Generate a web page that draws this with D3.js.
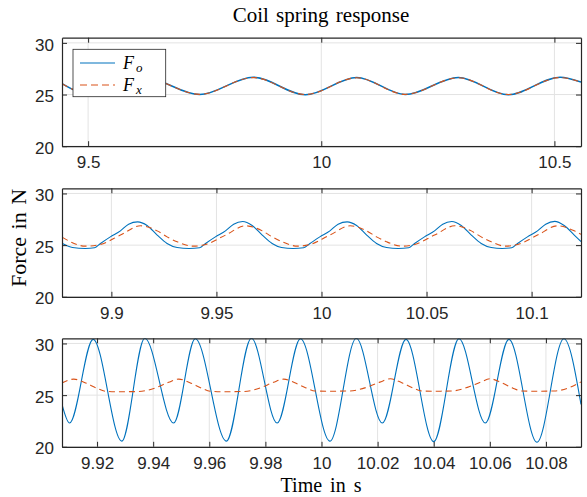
<!DOCTYPE html>
<html>
<head>
<meta charset="utf-8">
<script src="https://cdn.jsdelivr.net/npm/d3@7"></script>
<style>
  body { margin: 0; background: #fff; }
</style>
</head>
<body>
<div id="chart"></div>
<script>
// values
var yTicks = [20, 25, 30];

// top panel (long window)
var topTicks = [9.5, 10, 10.5];
var topTime = [9.444, 9.505, 9.62, 9.739, 9.854, 9.966, 10.076, 10.18, 10.294, 10.401, 10.512, 10.557];
var topFo = [26.05, 25.0, 26.65, 25.0, 26.68, 24.98, 26.66, 25.0, 26.66, 24.98, 26.68, 26.2];
var topFx = [26.05, 25.02, 26.62, 25.02, 26.64, 25.0, 26.62, 25.02, 26.62, 25.0, 26.64, 26.2];

// middle panel
var midTicks = [9.9, 9.95, 10, 10.05, 10.1];
var midFoTime = [9.8767, 9.8815, 9.8876, 9.892, 9.8948, 9.8995, 9.9043, 9.9082, 9.9125, 9.917, 9.9218, 9.9265,
  9.9313, 9.937, 9.942, 9.9448, 9.9495, 9.9543, 9.9582, 9.9625, 9.967, 9.9718, 9.9765,
  9.981, 9.9865, 9.9915, 9.9945, 9.9992, 10.004, 10.0079, 10.0122, 10.0167, 10.0215, 10.0262,
  10.031, 10.0365, 10.0415, 10.0443, 10.049, 10.0538, 10.0577, 10.062, 10.0665, 10.0713, 10.076,
  10.0808, 10.086, 10.0905, 10.0933, 10.098, 10.1028, 10.1067, 10.111, 10.1155, 10.1203, 10.1235];
var midFo = [25.15, 24.77, 24.68, 24.75, 25.16, 25.8, 26.38, 27.03, 27.25, 26.9, 25.97, 25.16,
  24.77, 24.68, 24.75, 25.16, 25.8, 26.38, 27.03, 27.28, 26.9, 25.97, 25.16,
  24.77, 24.68, 24.75, 25.16, 25.8, 26.38, 27.03, 27.25, 26.9, 25.97, 25.16,
  24.77, 24.68, 24.75, 25.16, 25.8, 26.38, 27.03, 27.28, 26.9, 25.97, 25.16,
  24.77, 24.68, 24.75, 25.16, 25.8, 26.38, 27.03, 27.3, 26.9, 25.97, 25.35];
var midFxTime = [9.8767, 9.8876, 9.8948, 9.9043, 9.9139, 9.9218, 9.9265, 9.9313,
  9.9389, 9.9449, 9.9543, 9.9639, 9.9718, 9.9765, 9.9813,
  9.9886, 9.9946, 10.004, 10.0136, 10.0215, 10.0262, 10.031,
  10.0384, 10.0444, 10.0538, 10.0634, 10.0713, 10.076, 10.0808,
  10.0874, 10.0934, 10.1028, 10.1124, 10.1203, 10.1235];
var midFx = [25.75, 24.9, 25.07, 25.97, 26.87, 26.38, 25.8, 25.32,
  24.9, 25.07, 25.97, 26.87, 26.38, 25.8, 25.32,
  24.9, 25.07, 25.97, 26.87, 26.38, 25.8, 25.32,
  24.9, 25.07, 25.97, 26.87, 26.38, 25.8, 25.32,
  24.9, 25.07, 25.97, 26.87, 26.38, 26.05];

// bottom panel
var botTicks = [9.92, 9.94, 9.96, 9.98, 10, 10.02, 10.04, 10.06, 10.08];
var botFoTime = [9.9075, 9.9102, 9.9186, 9.9288, 9.9370, 9.9473, 9.9550, 9.9661, 9.9750, 9.9842, 9.9925,
  10.0030, 10.0124, 10.0217, 10.0301, 10.0400, 10.0490, 10.0584, 10.0668, 10.0768, 10.0864, 10.0925];
var botFo = [24.1, 22.3, 30.4, 20.55, 30.5, 22.3, 30.45, 20.55, 30.5, 22.3, 30.45,
  20.55, 30.5, 22.3, 30.4, 20.5, 30.45, 22.3, 30.4, 20.45, 30.45, 24.1];
var botFxTime = [9.9075, 9.9117, 9.9157, 9.9197, 9.9229, 9.9275, 9.9348, 9.9408, 9.9455,
  9.9491, 9.9531, 9.9571, 9.9603, 9.965, 9.9722, 9.9782, 9.9829,
  9.9865, 9.9905, 9.9945, 9.9977, 10.0025, 10.01, 10.016, 10.0208,
  10.0246, 10.0286, 10.0326, 10.0358, 10.04, 10.0465, 10.052, 10.0567,
  10.0601, 10.0641, 10.0681, 10.0713, 10.076, 10.083, 10.0885, 10.0925];
var botFx = [26.18, 26.55, 26.2, 25.7, 25.38, 25.33, 25.35, 25.7, 26.24,
  26.55, 26.2, 25.7, 25.38, 25.33, 25.35, 25.7, 26.24,
  26.55, 26.2, 25.7, 25.4, 25.38, 25.4, 25.75, 26.26,
  26.58, 26.2, 25.7, 25.4, 25.38, 25.4, 25.75, 26.26,
  26.58, 26.2, 25.7, 25.4, 25.38, 25.4, 25.75, 26.28];

var width = 587, height = 497;
var left = 62, right = 581, panelH = 108.5;
var blue = "#0072BD", orange = "#D95319", axisColor = "#262626", gridColor = "#e3e3e3";

var svg = d3.select("#chart")
  .append("svg")
  .attr("width", width)
  .attr("height", height)
  .style("font-family", "'Liberation Sans', Arial, sans-serif");

var fmt = d3.format("~g");

drawPanel(0, 37.7, [9.444, 10.557], topTicks, topTime, topFo, topTime, topFx, true);
drawPanel(1, 188.3, [9.8765, 10.1235], midTicks, midFoTime, midFo, midFxTime, midFx, false);
drawPanel(2, 338.3, [9.9075, 10.0925], botTicks, botFoTime, botFo, botFxTime, botFx, false);

function drawPanel(idx, top, xDomain, xTicks, foTime, foVal, fxTime, fxVal, withLegend) {
  var x = d3.scaleLinear().domain(xDomain).range([left, right]);
  var y = d3.scaleLinear().domain([20, 30.5]).range([top + panelH, top]);

  var g = svg.append("g");

  // grid
  g.selectAll(".vgrid")
    .data(xTicks)
    .enter()
    .append("line")
    .attr("x1", d => x(d)).attr("x2", d => x(d))
    .attr("y1", top).attr("y2", top + panelH)
    .style("stroke", gridColor).style("stroke-width", 1);
  g.selectAll(".hgrid")
    .data(yTicks)
    .enter()
    .append("line")
    .attr("x1", left).attr("x2", right)
    .attr("y1", d => y(d)).attr("y2", d => y(d))
    .style("stroke", gridColor).style("stroke-width", 1);

  // curves
  var clipId = "clip" + idx;
  svg.append("clipPath").attr("id", clipId)
    .append("rect")
    .attr("x", left).attr("y", top)
    .attr("width", right - left).attr("height", panelH);

  var line = d3.line()
    .x(d => x(d[0]))
    .y(d => y(d[1]))
    .curve(d3.curveMonotoneX);

  g.append("path")
    .datum(d3.zip(foTime, foVal))
    .attr("clip-path", "url(#" + clipId + ")")
    .attr("d", line)
    .style("fill", "none")
    .style("stroke", blue)
    .style("stroke-width", idx == 0 ? 1.5 : 1.1);

  g.append("path")
    .datum(d3.zip(fxTime, fxVal))
    .attr("clip-path", "url(#" + clipId + ")")
    .attr("d", line)
    .style("fill", "none")
    .style("stroke", orange)
    .style("stroke-width", 1.1)
    .style("stroke-dasharray", "6,4");

  // axes, ticks pointing inward
  var bottomAxis = d3.axisBottom(x).tickValues(xTicks).tickFormat(fmt)
    .tickSizeInner(-5).tickSizeOuter(0).tickPadding(10);
  var topAxis = d3.axisTop(x).tickValues(xTicks).tickFormat("")
    .tickSizeInner(-5).tickSizeOuter(0);
  var leftAxis = d3.axisLeft(y).tickValues(yTicks).tickFormat(fmt)
    .tickSizeInner(-5).tickSizeOuter(0).tickPadding(8);
  var rightAxis = d3.axisRight(y).tickValues(yTicks).tickFormat("")
    .tickSizeInner(-5).tickSizeOuter(0);

  [
    [bottomAxis, "translate(0," + (top + panelH) + ")"],
    [topAxis, "translate(0," + top + ")"],
    [leftAxis, "translate(" + left + ",0)"],
    [rightAxis, "translate(" + right + ",0)"]
  ].forEach(function(a) {
    var ax = g.append("g").attr("transform", a[1]).call(a[0]);
    ax.select(".domain").style("stroke", axisColor).style("stroke-width", 1.2);
    ax.selectAll(".tick line").style("stroke", axisColor).style("stroke-width", 1);
    ax.selectAll("text")
      .style("font-family", "'Liberation Sans', Arial, sans-serif")
      .style("font-size", "17px")
      .style("fill", axisColor);
  });
  g.selectAll("text").filter(function() {
    return this.parentNode.parentNode.getAttribute("transform") == "translate(" + left + ",0)";
  }).attr("dy", "0.42em");

  if (withLegend) {
    var lg = g.append("g");
    lg.append("rect")
      .attr("x", 73).attr("y", 49.3)
      .attr("width", 92.7).attr("height", 47.4)
      .style("fill", "#fff")
      .style("stroke", axisColor)
      .style("stroke-width", 0.8);
    var entries = [["o", blue, null, 63], ["x", orange, "7,4", 85]];
    entries.forEach(function(e) {
      lg.append("line")
        .attr("x1", 80).attr("x2", 115)
        .attr("y1", e[3]).attr("y2", e[3])
        .style("stroke", e[1])
        .style("stroke-width", 1.1)
        .style("stroke-dasharray", e[2]);
      var t = lg.append("text")
        .attr("x", 123).attr("y", e[3] + 6)
        .style("font-family", "'Liberation Serif', 'Times New Roman', serif")
        .style("font-style", "italic")
        .style("font-size", "18px")
        .style("fill", "#000");
      t.append("tspan").text("F");
      t.append("tspan").attr("dx", 2).attr("dy", 3).style("font-size", "13px").text(e[0]);
    });
  }
}

// titles
svg.append("text")
  .attr("x", 321).attr("y", 22)
  .style("text-anchor", "middle")
  .style("font-family", "'Liberation Serif', 'Times New Roman', serif")
  .style("font-size", "21px")
  .style("word-spacing", "2px")
  .style("fill", "#000")
  .text("Coil spring response");

svg.append("text")
  .attr("transform", "translate(26,238) rotate(-90)")
  .style("text-anchor", "middle")
  .style("font-family", "'Liberation Serif', 'Times New Roman', serif")
  .style("font-size", "22px")
  .style("word-spacing", "2px")
  .style("fill", "#000")
  .text("Force in N");

svg.append("text")
  .attr("x", 321).attr("y", 492)
  .style("text-anchor", "middle")
  .style("font-family", "'Liberation Serif', 'Times New Roman', serif")
  .style("font-size", "20px")
  .style("word-spacing", "3px")
  .style("fill", "#000")
  .text("Time in s");
</script>
</body>
</html>
